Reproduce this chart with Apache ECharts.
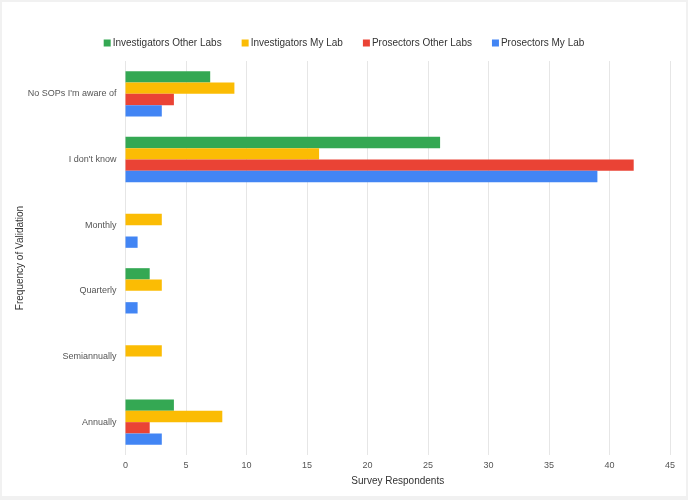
<!DOCTYPE html>
<html><head><meta charset="utf-8">
<script src="https://cdn.jsdelivr.net/npm/echarts@6/dist/echarts.min.js"></script>
<style>
html,body{margin:0;padding:0;background:#f1f1f1;width:688px;height:500px;overflow:hidden}
#c{position:absolute;left:2px;top:2px;width:684px;height:494px;background:#fff}
</style></head><body>
<div id="c"></div>
<script>
const categories = ["No SOPs I'm aware of", "I don't know", "Monthly", "Quarterly", "Semiannually", "Annually"];
const seriesNames = ["Investigators Other Labs", "Investigators My Lab", "Prosectors Other Labs", "Prosectors My Lab"];
const investigatorsOther = [7, 26, 0, 2, 0, 4];
const investigatorsMy = [9, 16, 3, 3, 3, 8];
const prosectorsOther = [4, 42, 0, 0, 0, 2];
const prosectorsMy = [3, 39, 1, 1, 0, 3];
const colors = ["#34a853", "#fbbc04", "#ea4335", "#4285f4"];
const values = [investigatorsOther, investigatorsMy, prosectorsOther, prosectorsMy];

const chart = echarts.init(document.getElementById('c'));
chart.setOption({
  backgroundColor: '#fff',
  textStyle: {fontFamily: 'Arial, "Liberation Sans", sans-serif'},
  legend: {
    top: 31, left: 'center',
    itemWidth: 7, itemHeight: 7, itemGap: 20,
    icon: 'rect',
    textStyle: {fontSize: 10, color: '#333', padding: [0, 0, 0, -3]},
    data: seriesNames
  },
  grid: {left: 123.5, right: 16, top: 59, bottom: 41, outerBoundsMode: 'none', containLabel: false},
  xAxis: {
    type: 'value', min: 0, max: 45, interval: 5,
    name: 'Survey Respondents', nameLocation: 'middle', nameGap: 21, nameMoveOverlap: false,
    nameTextStyle: {fontSize: 10, color: '#333'},
    axisLabel: {fontSize: 9, color: '#555', margin: 6},
    axisLine: {show: false}, axisTick: {show: false},
    splitLine: {lineStyle: {color: '#e6e6e6'}}
  },
  yAxis: {
    type: 'category', data: categories, inverse: true,
    name: 'Frequency of Validation', nameLocation: 'middle', nameGap: 100, nameMoveOverlap: false,
    nameTextStyle: {fontSize: 10, color: '#333'},
    axisLabel: {fontSize: 9, color: '#555', margin: 9},
    axisLine: {show: false}, axisTick: {show: false}
  },
  series: seriesNames.map((n, i) => ({
    name: n, type: 'bar', data: values[i],
    itemStyle: {color: colors[i]},
    barGap: '0%', barCategoryGap: '31%'
  }))
});
</script></body></html>
